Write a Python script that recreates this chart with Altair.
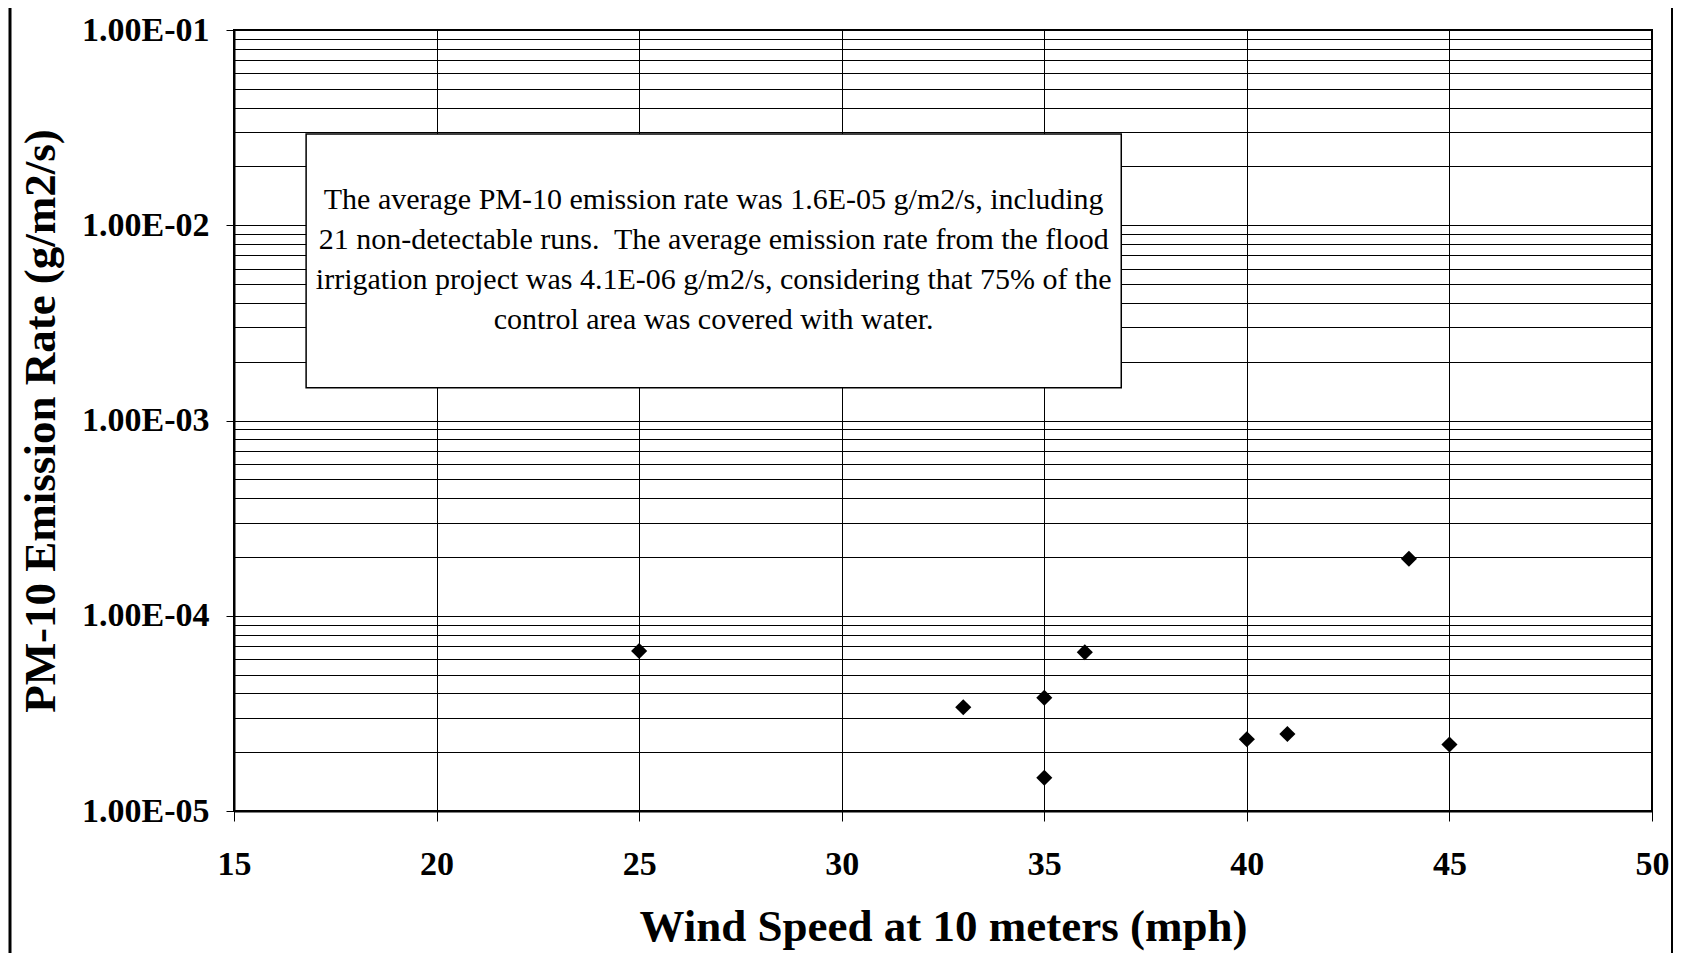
import altair as alt
import pandas as pd

# ---- data ----
wind_speed = [25, 33, 35, 35, 36, 40, 41, 44, 45]
emission_rate = [6.6e-5, 3.4e-5, 3.8e-5, 1.48e-5, 6.5e-5, 2.33e-5, 2.48e-5, 1.96e-4, 2.19e-5]

x_ticks = [15, 20, 25, 30, 35, 40, 45, 50]
decades = [1e-5, 1e-4, 1e-3, 1e-2, 1e-1]
minor_multipliers = [1, 2, 3, 4, 5, 6, 7, 8, 9]
y_grid = sorted(d * m for d in decades[:-1] for m in minor_multipliers) + [decades[-1]]

note_lines = [
    "The average PM-10 emission rate was 1.6E-05 g/m2/s, including",
    "21 non-detectable runs.\u00a0 The average emission rate from the flood",
    "irrigation project was 4.1E-06 g/m2/s, considering that 75% of the",
    "control area was covered with water.",
]
note_box_x = [16.78, 36.9]
note_box_y = [1.47e-3, 2.93e-2]
note_text_pos = [26.84, 6.8e-3]

x_title = "Wind Speed at 10 meters (mph)"
y_title = "PM-10 Emission Rate (g/m2/s)"

FONT = "Liberation Serif"
W, H = 1418, 781

xscale = alt.Scale(domain=[15, 50], nice=False, zero=False)
yscale = alt.Scale(type="log", domain=[1e-5, 1e-1], nice=False)

is_decade = "abs(log(datum.value)/LN10 - round(log(datum.value)/LN10)) < 0.001"

x_axis = alt.Axis(
    values=x_ticks, grid=True, gridColor="black", gridWidth=1, gridOpacity=1,
    tickColor="black", tickSize=10, tickWidth=1,
    domainColor="black", domainWidth=2,
    labelFont=FONT, labelFontSize=34, labelFontWeight="bold", labelColor="black",
    labelPadding=26, labelFlush=False, labelOverlap=False,
    title=x_title, titleFont=FONT, titleFontSize=45, titleFontWeight="bold",
    titleColor="black", titleX=W / 2, titleY=115, titleBaseline="middle",
)
y_axis = alt.Axis(
    values=y_grid, grid=True, gridColor="black", gridWidth=1, gridOpacity=1,
    tickColor="black", tickSize=8, tickWidth=1,
    tickOpacity={"condition": {"test": is_decade, "value": 1}, "value": 0},
    domainColor="black", domainWidth=2,
    labelExpr=is_decade + " ? '1.00E-0' + toString(-round(log(datum.value)/LN10)) : ''",
    labelFont=FONT, labelFontSize=34, labelFontWeight="bold", labelColor="black",
    labelPadding=17, labelFlush=False, labelOverlap=False, labelBound=False,
    title=y_title, titleFont=FONT, titleFontSize=45, titleFontWeight="bold",
    titleColor="black", titleX=-194, titleY=H / 2, titleAngle=270, titleBaseline="middle",
)

df = pd.DataFrame({"wind": wind_speed, "rate": emission_rate})

points = alt.Chart(df).mark_point(
    shape="diamond", filled=True, color="black", opacity=1, size=260
).encode(
    x=alt.X("wind:Q", scale=xscale, axis=x_axis),
    y=alt.Y("rate:Q", scale=yscale, axis=y_axis),
)

box_df = pd.DataFrame({"wind": [note_box_x[0]], "wind2": [note_box_x[1]],
                       "rate": [note_box_y[0]], "rate2": [note_box_y[1]]})
box = alt.Chart(box_df).mark_rect(fill="white", stroke="black", strokeWidth=1.5).encode(
    x=alt.X("wind:Q", scale=xscale, axis=x_axis), x2="wind2:Q",
    y=alt.Y("rate:Q", scale=yscale, axis=y_axis), y2="rate2:Q",
)

text_df = pd.DataFrame({"wind": [note_text_pos[0]], "rate": [note_text_pos[1]],
                        "label": ["\n".join(note_lines)]})
note = alt.Chart(text_df).mark_text(
    font="Liberation Serif, Times New Roman, serif", fontSize=30, color="black",
    lineBreak="\n", lineHeight=40, align="center", baseline="middle", dy=-58,
).encode(
    x=alt.X("wind:Q", scale=xscale, axis=x_axis),
    y=alt.Y("rate:Q", scale=yscale, axis=y_axis),
    text="label:N",
)

frame_df = pd.DataFrame({"k": [0]})
left_frame = alt.Chart(frame_df).mark_rule(color="black", strokeWidth=3).encode(
    x=alt.value(-224), y=alt.value(-22), y2=alt.value(923)
)
right_frame = alt.Chart(frame_df).mark_rule(color="black", strokeWidth=2).encode(
    x=alt.value(1438), y=alt.value(-22), y2=alt.value(923)
)

chart = alt.layer(box, note, points, left_frame, right_frame).properties(
    width=W, height=H,
    autosize=alt.AutoSizeParams(type="none"),
    padding={"left": 226, "top": 22, "right": 24, "bottom": 142},
).configure_view(stroke="black", strokeWidth=2)

chart.save("out.html", embed_options={"renderer": "svg", "actions": False})
